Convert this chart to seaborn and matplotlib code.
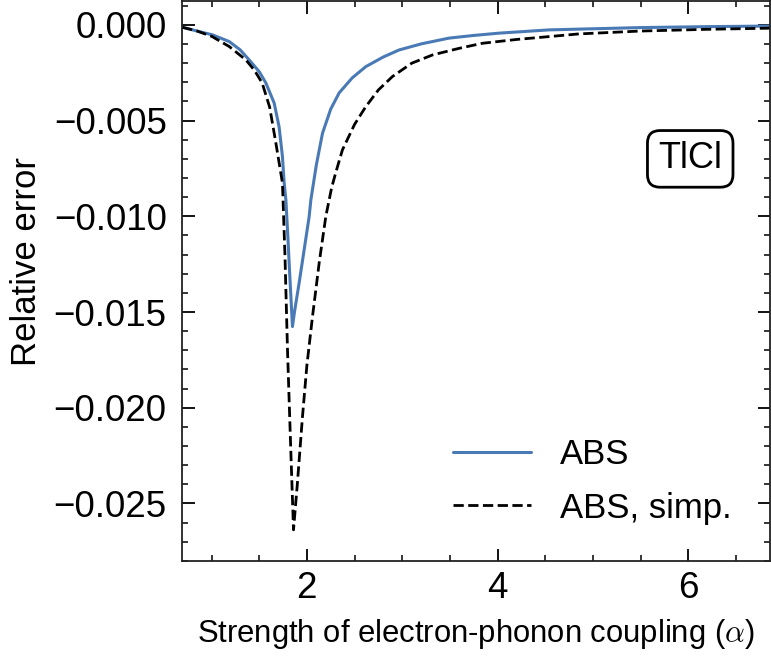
import numpy as np
import pandas as pd
import matplotlib
matplotlib.use("Agg")
import matplotlib.pyplot as plt
from matplotlib.ticker import MultipleLocator, FuncFormatter
import seaborn as sns

# ABS curve
abs_x = [0.692, 0.871, 1.011, 1.186, 1.300, 1.395, 1.500, 1.570, 1.657, 1.709, 1.744,
         1.762, 1.780, 1.800, 1.820, 1.849, 1.870, 1.919, 1.970, 2.024, 2.042, 2.100,
         2.164, 2.250, 2.339, 2.475, 2.618, 2.800, 2.967, 3.200, 3.491, 3.750, 4.016,
         4.540, 4.854, 5.500, 6.200, 6.857]
abs_y = [-0.00012, -0.00035, -0.00052, -0.00087, -0.00130, -0.00183, -0.00244, -0.00303,
         -0.00408, -0.00533, -0.00688, -0.00826, -0.00914, -0.01100, -0.01300, -0.01576,
         -0.01500, -0.01348, -0.01180, -0.01002, -0.00914, -0.00730, -0.00566, -0.00440,
         -0.00355, -0.00277, -0.00218, -0.00168, -0.00131, -0.00099, -0.00069, -0.00055,
         -0.00043, -0.00026, -0.00022, -0.00014, -0.00009, -0.00006]

# ABS, simplified curve
simp_x = [0.692, 0.850, 1.007, 1.186, 1.361, 1.450, 1.531, 1.610, 1.675, 1.744, 1.770,
          1.797, 1.830, 1.860, 1.901, 1.954, 2.000, 2.059, 2.130, 2.199, 2.260, 2.304,
          2.373, 2.500, 2.618, 2.750, 2.897, 3.100, 3.317, 3.600, 3.841, 4.200, 4.540,
          4.854, 5.500, 6.200, 6.857]
simp_y = [-0.00012, -0.00032, -0.00061, -0.00113, -0.00183, -0.00237, -0.00303, -0.00430,
          -0.00617, -0.00826, -0.01200, -0.01698, -0.02200, -0.02638, -0.02393, -0.02047,
          -0.01780, -0.01524, -0.01240, -0.01000, -0.00850, -0.00770, -0.00653, -0.00520,
          -0.00427, -0.00340, -0.00270, -0.00200, -0.00157, -0.00122, -0.00096, -0.00076,
          -0.00061, -0.00047, -0.00032, -0.00023, -0.00017]

series_labels = ["ABS", "ABS, simp."]
series_colors = ["#4a7ab5", "black"]
annotation_text = "TlCl"
xlabel_text = r"Strength of electron-phonon coupling ($\alpha$)"
ylabel_text = "Relative error"

sns.set_theme(style="ticks")
plt.rcParams["font.family"] = ["Liberation Sans", "DejaVu Sans"]
plt.rcParams["mathtext.fontset"] = "cm"
plt.rcParams["axes.unicode_minus"] = True
plt.rcParams["text.color"] = "black"
plt.rcParams["axes.labelcolor"] = "black"

fig = plt.figure(figsize=(7.71, 6.56), dpi=100)
ax = fig.add_axes([0.236, 0.145, 0.763, 0.8535])

df_abs = pd.DataFrame({"x": abs_x, "y": abs_y})
df_simp = pd.DataFrame({"x": simp_x, "y": simp_y})

sns.lineplot(data=df_abs, x="x", y="y", ax=ax, color=series_colors[0], lw=2.2,
             label=series_labels[0], sort=False)
sns.lineplot(data=df_simp, x="x", y="y", ax=ax, color=series_colors[1], lw=2.0,
             linestyle="--", label=series_labels[1], sort=False)

ax.set_xlim(0.69, 6.86)
ax.set_ylim(-0.028, 0.00125)

ax.xaxis.set_major_locator(MultipleLocator(2))
ax.xaxis.set_minor_locator(MultipleLocator(0.5))
ax.yaxis.set_major_locator(MultipleLocator(0.005))
ax.yaxis.set_minor_locator(MultipleLocator(0.001))
ax.yaxis.set_major_formatter(FuncFormatter(
    lambda v, p: ("%.3f" % v).replace("-", "\u2212") if abs(v) > 1e-12 else "0.000"))

ax.tick_params(which="both", direction="in", top=True, right=True, colors="black")
ax.tick_params(which="major", length=9, width=1.3, labelsize=26.5, pad=7)
ax.tick_params(axis="y", which="major", pad=11)
ax.tick_params(which="minor", length=4.5, width=1.1)
for s in ax.spines.values():
    s.set_linewidth(1.3)
    s.set_color("#222222")

ax.set_xlabel(xlabel_text, fontsize=22.3, labelpad=8)
ax.set_ylabel(ylabel_text, fontsize=25, labelpad=4)
ax.yaxis.set_label_coords(-0.237, 0.534)

ax.text(0.864, 0.718, annotation_text, transform=ax.transAxes, fontsize=26,
        ha="center", va="center",
        bbox=dict(boxstyle="round,pad=0.3,rounding_size=0.35", fc="white", ec="black", lw=2))

leg = ax.legend(loc="lower right", bbox_to_anchor=(0.988, 0.009), frameon=False,
                fontsize=25, handlelength=2.25, handletextpad=0.84, labelspacing=0.6)

fig.savefig("out.png", dpi=100)
